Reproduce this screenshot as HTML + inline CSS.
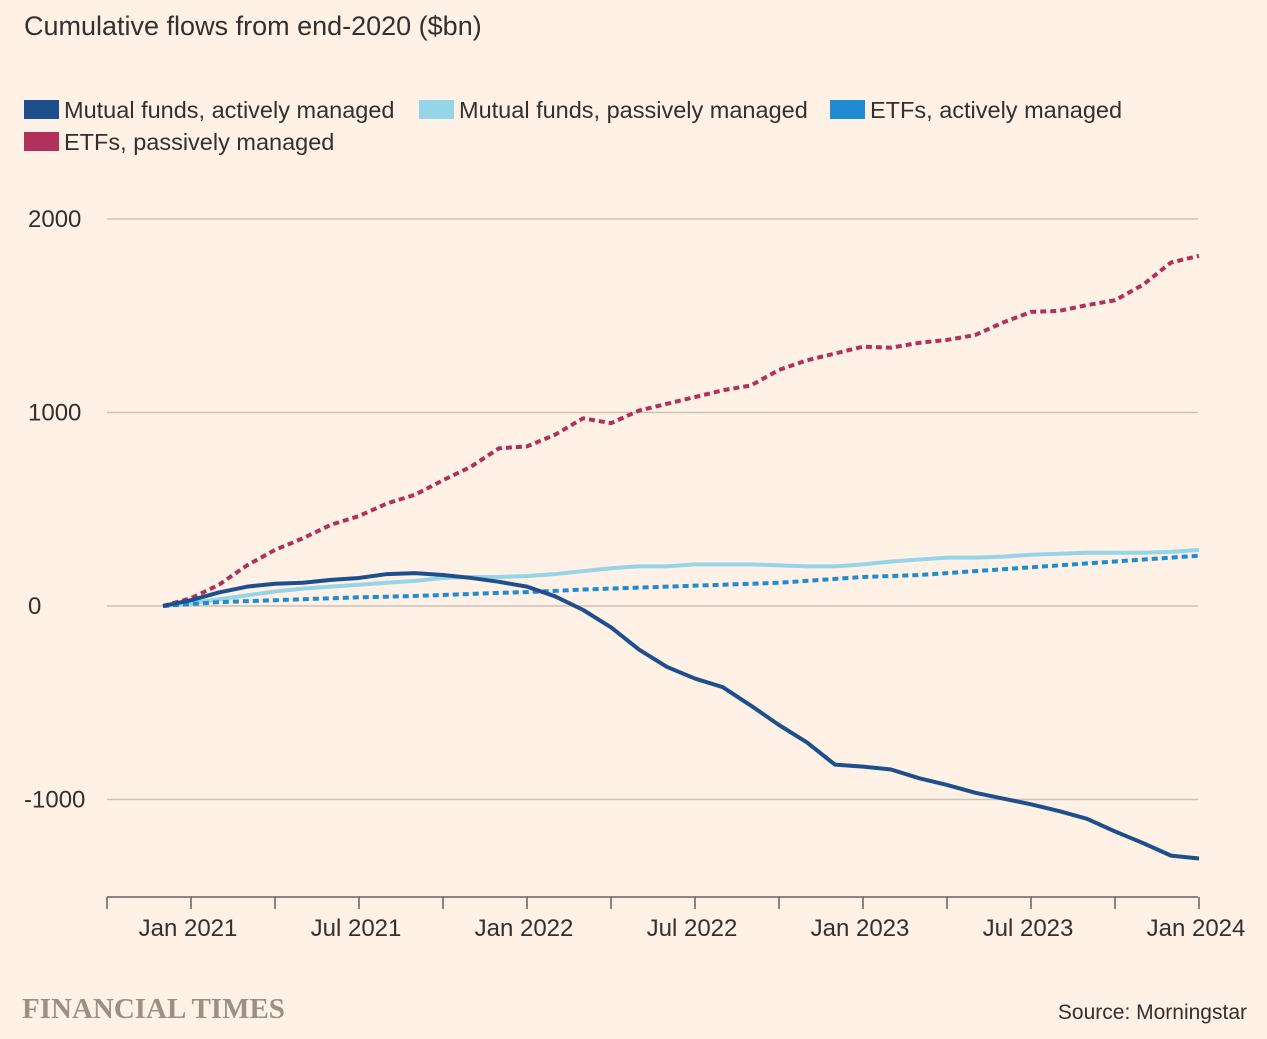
<!DOCTYPE html>
<html><head><meta charset="utf-8">
<style>
body{margin:0;background:#fff1e5;width:1267px;height:1039px;overflow:hidden;font-family:"Liberation Sans",sans-serif;color:#33302e}
svg{position:absolute;left:0;top:0}
</style></head>
<body>
<svg id="chart" width="1267" height="1039">
<text x="24" y="35" font-size="27" fill="#33302e">Cumulative flows from end-2020 ($bn)</text>
<g id="legend" font-size="23.5" fill="#33302e"></g>
<g id="grid"></g>
<g id="yticks" font-size="24" fill="#33302e"></g>
<g id="xaxis" font-size="24" fill="#33302e"></g>
<g id="series"></g>
<text x="22" y="1018" font-family="Liberation Serif,serif" font-weight="bold" font-size="29" fill="#999088">FINANCIAL TIMES</text>
<text x="1247" y="1019" text-anchor="end" font-size="21" fill="#33302e">Source: Morningstar</text>
</svg>
<script>
const yTicks=[2000,1000,0,-1000];
const xLabels=["Jan 2021","Jul 2021","Jan 2022","Jul 2022","Jan 2023","Jul 2023","Jan 2024"];
const mutualActive=[0,30,70,100,115,120,135,145,165,170,160,145,125,100,50,-20,-110,-225,-315,-375,-420,-515,-615,-705,-820,-830,-845,-890,-925,-965,-995,-1025,-1060,-1100,-1165,-1225,-1290,-1305];
const mutualPassive=[0,15,35,55,75,90,100,110,120,130,145,150,150,155,165,180,195,205,205,215,215,215,210,205,205,215,230,240,250,250,255,265,270,275,275,275,280,290];
const etfActive=[0,10,20,25,30,35,40,45,48,52,57,62,68,72,78,85,90,95,100,105,110,115,120,130,140,150,155,160,170,180,190,200,210,220,230,240,250,260];
const etfPassive=[0,40,110,210,290,350,420,465,530,575,650,720,815,825,885,970,945,1010,1045,1080,1115,1140,1220,1270,1305,1340,1335,1360,1375,1400,1465,1520,1525,1555,1580,1660,1775,1810];
const seriesNames=["Mutual funds, actively managed","Mutual funds, passively managed","ETFs, actively managed","ETFs, passively managed"];

const NS="http://www.w3.org/2000/svg";
const y=v=>606-v*0.1935;
const x=i=>163+i*28;
function mk(tag,attrs,parent){const e=document.createElementNS(NS,tag);for(const k in attrs)e.setAttribute(k,attrs[k]);parent.appendChild(e);return e;}

const grid=document.getElementById('grid'),yt=document.getElementById('yticks');
yTicks.forEach(v=>{
  const l=mk('line',{x1:107,x2:1198,y1:y(v),y2:y(v),stroke:'#ccc1b7','stroke-width':1.5},grid);
  
  
  const t=mk('text',{x:v<0?24:28,y:y(v)+8},yt);t.textContent=v;
  
  
});
const xa=document.getElementById('xaxis');
const ax=mk('line',{x1:107,x2:1198,y1:897,y2:897,stroke:'#66605c','stroke-width':1.5},xa);


for(let k=0;k<=13;k++){
  const px=107+k*84;
  const tk=mk('line',{x1:px,x2:px,y1:897,y2:909,stroke:'#66605c','stroke-width':1.5},xa);
  
  
}
xLabels.forEach((s,i)=>{
  const t=mk('text',{x:x(1+i*6)-3,y:936,'text-anchor':'middle'},xa);t.textContent=s;
  
  
});

const colors=['#1d4f8c','#96d4e8','#1e8bd2','#b0325a'];
const dashes=[null,null,'6 4','6 4'];
const data=[mutualActive,mutualPassive,etfActive,etfPassive];
const sg=document.getElementById('series');
[1,2,3,0].forEach(si=>{
  const d=data[si].map((v,i)=>(i?'L':'M')+x(i)+','+y(v)).join('');
  const a={d:d,fill:'none',stroke:colors[si],'stroke-width':4,'stroke-linejoin':'round'};
  if(dashes[si])a['stroke-dasharray']=dashes[si];
  const p=mk('path',a,sg);
  
  
});

const lg=document.getElementById('legend');
const lpos=[[24,110],[419,110],[830,110],[24,142]];
seriesNames.forEach((n,i)=>{
  const g=mk('g',{},lg);
  
  
  mk('rect',{x:lpos[i][0],y:lpos[i][1]-10,width:35,height:19,fill:colors[i]},g);
  const t=mk('text',{x:lpos[i][0]+40,y:lpos[i][1]+8},g);t.textContent=n;
});
</script>
</body></html>
